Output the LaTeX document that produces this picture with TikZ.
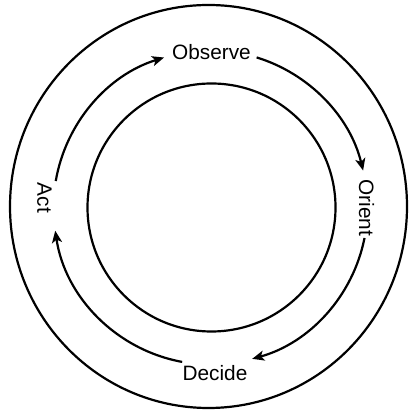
\documentclass[tikz,border=0pt]{standalone}
\usepackage{fontspec}
\setmainfont{Liberation Sans}
\usetikzlibrary{arrows.meta,calc}
\begin{document}
\begin{tikzpicture}[x=1pt,y=1pt,
  ring/.style={line width=2.2pt},
  flow/.style={line width=2.2pt,-{Stealth[length=12pt,width=10pt,inset=3pt]}},
  lbl/.style={inner sep=0pt,font=\fontsize{20.8}{25}\selectfont}]
\useasboundingbox (0,0) rectangle (408,411);
\coordinate (oc) at (208.5,204.5);
\coordinate (ic) at (211.5,203.5);
\coordinate (mc) at (210.5,203.5);
\draw[ring] (oc) ellipse [x radius=198.5, y radius=201.5];
\draw[ring] (ic) circle [radius=124];
\node[lbl] (obs) at (211.5,358.5) {Observe};
\node[lbl,rotate=-90] (ori) at (366.5,203) {Orient};
\node[lbl] (dec) at (215,37.5) {Decide};
\node[lbl,rotate=-90] (act) at (44.5,213) {Act};
\coordinate (a1) at ($(mc)+(170.3:157)$);
\coordinate (o1) at ($(mc)+(72.9:157)$);
\coordinate (r1) at ($(mc)+(-11.2:157)$);
\coordinate (d1) at ($(mc)+(-100.4:157)$);
\draw[flow] (a1) arc[start angle=170.3, end angle=107.2, radius=157];
\draw[flow] (o1) arc[start angle=72.9, end angle=13.6, radius=157];
\draw[flow] (r1) arc[start angle=-11.2, end angle=-74.6, radius=157];
\draw[flow] (d1) arc[start angle=-100.4, end angle=-171.5, radius=157];
\end{tikzpicture}
\end{document}
